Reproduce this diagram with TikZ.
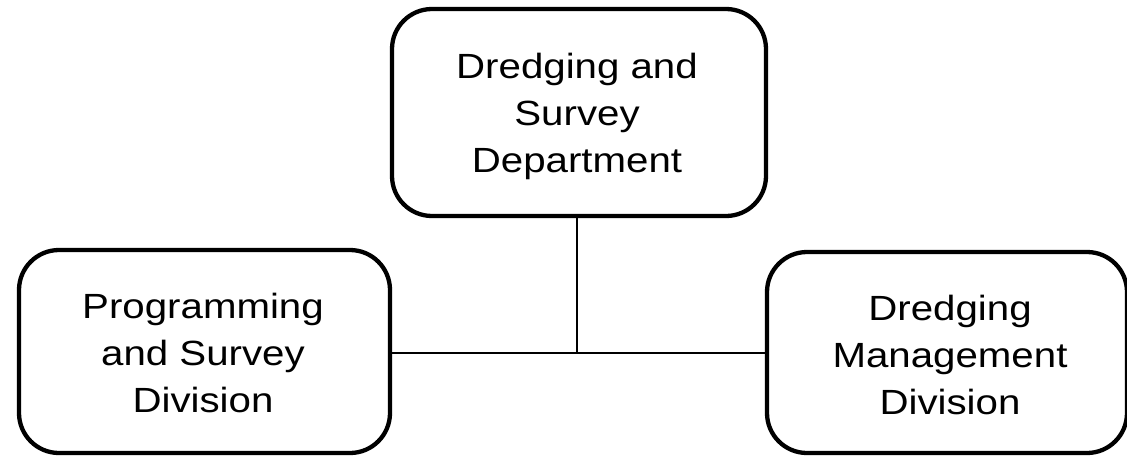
\documentclass[tikz,border=0pt]{standalone}
\usepackage{fontspec}
\setmainfont{Liberation Sans}
\begin{document}
\begin{tikzpicture}[x=1pt,y=-1pt,
  unitbox/.style={draw=black, line width=4.3pt, rounded corners=40pt,
    inner sep=0pt, outer sep=0pt},
  unittext/.style={inner sep=0pt, align=center,
    font=\fontsize{35pt}{47pt}\selectfont, text=black},
  link/.style={draw=black, line width=2pt}]
  \useasboundingbox (0,0) rectangle (1127,458);
  % boxes
  \node[unitbox, minimum width=374pt, minimum height=207pt] (top) at (579,112.5) {};
  \node[unitbox, minimum width=371pt, minimum height=203pt] (left) at (204.5,351.5) {};
  \node[unitbox, minimum width=360pt, minimum height=201pt] (right) at (947,352.5) {};
  % labels
  \node[unittext] (toplabel) at (577,116) {\scalebox{1.15}[1]{\begin{tabular}{c}Dredging and\\Survey\\Department\end{tabular}}};
  \node[unittext] (leftlabel) at (203,356) {\scalebox{1.15}[1]{\begin{tabular}{c}Programming\\and Survey\\Division\end{tabular}}};
  \node[unittext] (rightlabel) at (950,358) {\scalebox{1.15}[1]{\begin{tabular}{c}Dredging\\Management\\Division\end{tabular}}};
  % connectors
  \coordinate (j) at (577,353);
  \draw[link] (top.south -| j) -- (j);
  \draw[link] (j -| left.east) -- (j -| right.west);
\end{tikzpicture}
\end{document}
